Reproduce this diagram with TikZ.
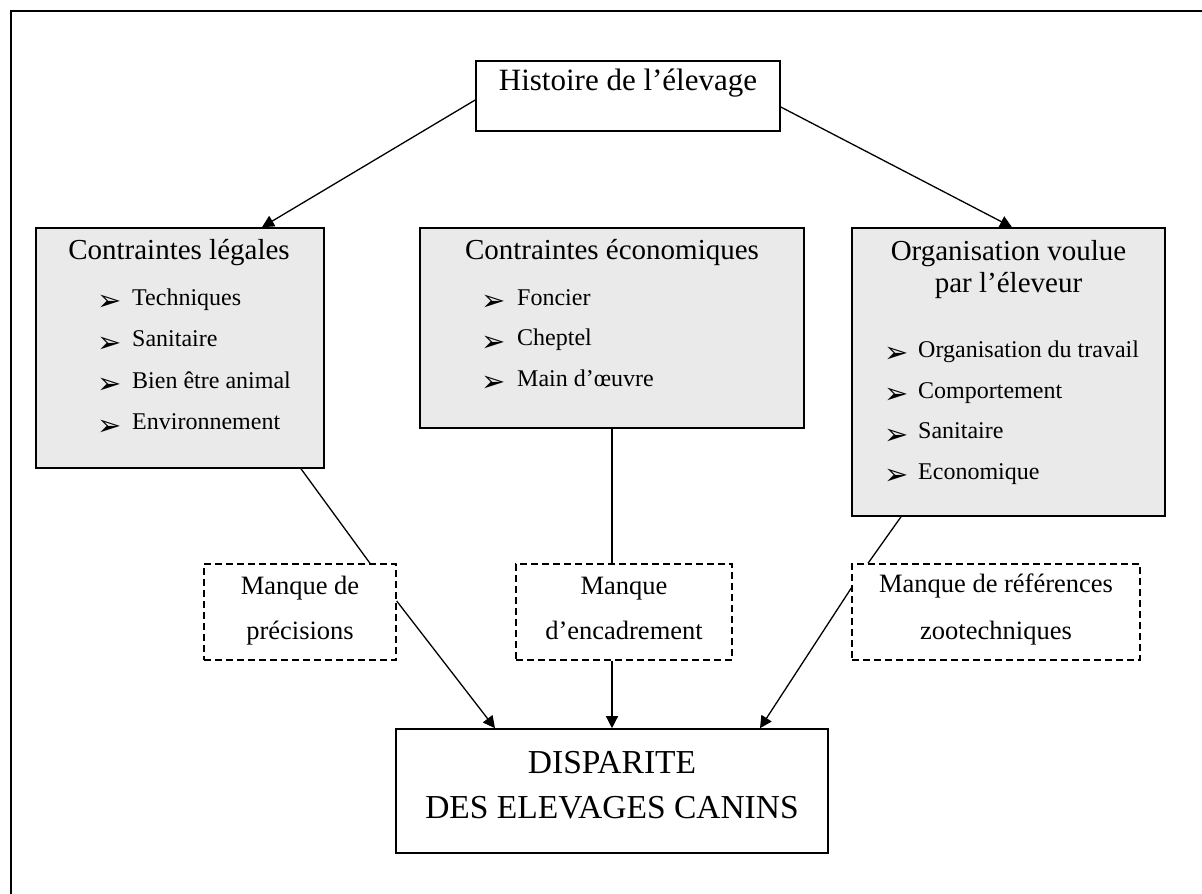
\documentclass[tikz,border=0pt]{standalone}
\usepackage{fontspec}
\setmainfont{Liberation Serif}
\newfontfamily\dejavu{DejaVu Sans}
\usetikzlibrary{arrows.meta,calc}
\definecolor{boxgray}{HTML}{EAEAEA}
\tikzset{
 solidbox/.style={draw=black, line width=1.6pt, fill=boxgray, inner sep=0pt},
 plainbox/.style={draw=black, line width=1.6pt, fill=white, inner sep=0pt},
 dashbox/.style={draw=black, line width=1.4pt, dash pattern=on 7pt off 4pt, inner sep=0pt},
 conn/.style={line width=1.3pt},
 arr/.style={line width=1.3pt, -{Triangle[length=12pt,width=12pt]}},
 titletxt/.style={font=\fontsize{29}{35}\selectfont, inner sep=0pt, text height=0.68em, text depth=0.22em},
 bigtxt/.style={font=\fontsize{31}{36}\selectfont, inner sep=0pt, text height=0.68em, text depth=0.22em},
 disptxt/.style={font=\fontsize{33.5}{40}\selectfont, inner sep=0pt, text height=0.68em, text depth=0.22em},
 itemtxt/.style={font=\fontsize{24}{29}\selectfont, anchor=west, inner sep=0pt, text height=0.68em, text depth=0.22em},
 bul/.style={font=\dejavu\fontsize{29}{30}\selectfont, inner sep=0pt},
 dtxt/.style={font=\fontsize{26.5}{32}\selectfont, inner sep=0pt, text height=0.68em, text depth=0.22em},
}
\begin{document}
\begin{tikzpicture}[x=1pt,y=-1pt]
\useasboundingbox (0,0) rectangle (1202,894);
% outer frame (cropped)
\coordinate (fbl) at (11,900);
\coordinate (ftl) at (11,11);
\coordinate (ftr) at (1210,11);
\draw[line width=2pt] (fbl) -- (ftl) -- (ftr);

% top box
\node[plainbox, minimum width=304pt, minimum height=70pt] (hist) at (628,96) {};
\node[bigtxt] (histt) at (628,88) {Histoire de l’élevage};

% left box
\node[solidbox, minimum width=288pt, minimum height=240pt] (legal) at (180,348) {};
\node[titletxt] (legalt) at (179,257) {Contraintes légales};
\node[bul] (lb1) at (110,303) {➢};
\node[itemtxt] (li1) at (132,303) {Techniques};
\node[bul] (lb2) at (110,344.5) {➢};
\node[itemtxt] (li2) at (132,344.5) {Sanitaire};
\node[bul] (lb3) at (110,386) {➢};
\node[itemtxt] (li3) at (132,386) {Bien être animal};
\node[bul] (lb4) at (110,427.5) {➢};
\node[itemtxt] (li4) at (132,427.5) {Environnement};

% middle box
\node[solidbox, minimum width=384pt, minimum height=200pt] (eco) at (612,328) {};
\node[titletxt] (ecot) at (612,257) {Contraintes économiques};
\node[bul] (eb1) at (494,303) {➢};
\node[itemtxt] (ei1) at (517,303) {Foncier};
\node[bul] (eb2) at (494,343.5) {➢};
\node[itemtxt] (ei2) at (517,343.5) {Cheptel};
\node[bul] (eb3) at (494,384) {➢};
\node[itemtxt] (ei3) at (517,384) {Main d’œuvre};

% right box
\node[solidbox, minimum width=313pt, minimum height=288pt] (org) at (1008.5,372) {};
\node[titletxt] (orgt1) at (1008.5,258) {Organisation voulue};
\node[titletxt] (orgt2) at (1008.5,290) {par l’éleveur};
\node[bul] (ob1) at (897,355) {➢};
\node[itemtxt] (oi1) at (918,355) {Organisation du travail};
\node[bul] (ob2) at (897,395.7) {➢};
\node[itemtxt] (oi2) at (918,395.7) {Comportement};
\node[bul] (ob3) at (897,436.3) {➢};
\node[itemtxt] (oi3) at (918,436.3) {Sanitaire};
\node[bul] (ob4) at (897,477) {➢};
\node[itemtxt] (oi4) at (918,477) {Economique};

% dashed boxes
\node[dashbox, minimum width=192pt, minimum height=96pt] (d1) at (300,612) {};
\node[dtxt] (d1a) at (300,592) {Manque de};
\node[dtxt] (d1b) at (300,637) {précisions};
\node[dashbox, minimum width=216pt, minimum height=96pt] (d2) at (624,612) {};
\node[dtxt] (d2a) at (624,592) {Manque};
\node[dtxt] (d2b) at (624,637) {d’encadrement};
\node[dashbox, minimum width=288pt, minimum height=96pt] (d3) at (996,612) {};
\node[dtxt] (d3a) at (996,590) {Manque de références};
\node[dtxt] (d3b) at (996,637) {zootechniques};

% bottom box
\node[plainbox, minimum width=432pt, minimum height=124pt] (disp) at (612,791) {};
\node[disptxt] (dispa) at (612,771) {DISPARITE};
\node[disptxt] (dispb) at (612,816) {DES ELEVAGES CANINS};

% connectors
\draw[arr] ([yshift=-4pt]hist.west) -- ([xshift=82pt]legal.north);
\draw[arr] ([yshift=-11pt]hist.east) -- ([xshift=3.5pt]org.north);
\draw[conn] ([xshift=121pt]legal.south) -- ([xshift=70pt]d1.north);
\draw[arr] ([yshift=11pt]d1.east) -- ([xshift=-117pt]disp.north);
\draw[conn] (eco.south) -- (eco.south |- d2.north);
\draw[arr] (eco.south |- d2.south) -- (disp.north);
\draw[conn] ([xshift=-107.5pt]org.south) -- ([xshift=-128pt]d3.north);
\draw[arr] ([yshift=24pt]d3.west) -- ([xshift=148pt]disp.north);
\end{tikzpicture}
\end{document}
